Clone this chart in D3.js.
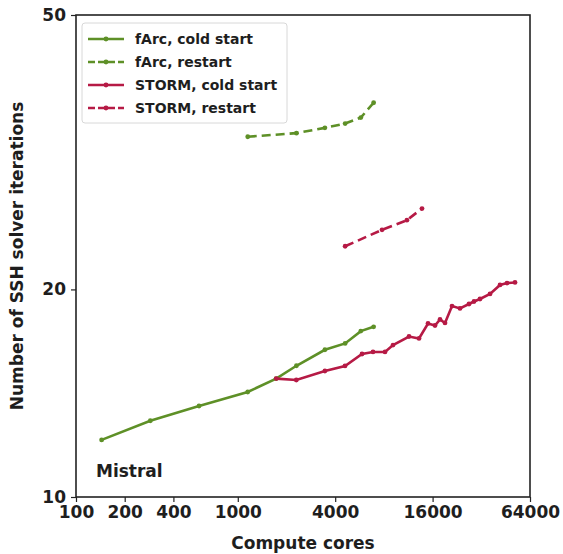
<!DOCTYPE html>
<html>
<head>
<meta charset="utf-8">
<script src="https://cdn.jsdelivr.net/npm/d3@7"></script>
<style>
  body { margin: 0; background: #fff; }
  text { font-family: "DejaVu Sans"; font-weight: bold; fill: #1e1e1e; }
</style>
</head>
<body>
<svg></svg>
<script>
var width = 563;
var height = 554;
var margin = { left: 76, right: 33, top: 15, bottom: 57 };

// tick labels
var xTicks = [100, 200, 400, 1000, 4000, 16000, 64000];
var yTicks = [10, 20, 50];

// fArc, cold start
var farcColdCores = [144, 288, 576, 1152, 1728, 2304, 3456, 4608, 5760, 6912];
var farcColdIters = [12.1, 12.9, 13.55, 14.2, 14.85, 15.5, 16.35, 16.7, 17.4, 17.65];

// fArc, restart
var farcRestartCores = [1152, 2304, 3456, 4608, 5760, 6912];
var farcRestartIters = [33.3, 33.7, 34.3, 34.8, 35.5, 37.3];

// STORM, cold start
var stormColdCores = [1728, 2300, 3456, 4600, 5860, 6850, 8130, 9110, 11440, 13190, 14990, 16560,
                      17780, 19090, 21090, 23630, 26860, 28850, 31420, 36230, 41770, 46140, 51700];
var stormColdIters = [14.85, 14.78, 15.23, 15.49, 16.12, 16.23, 16.23, 16.61, 17.09, 16.98, 17.85, 17.73,
                      18.09, 17.88, 18.92, 18.77, 19.05, 19.21, 19.37, 19.7, 20.3, 20.43, 20.47];

// STORM, restart
var stormRestartCores = [4608, 7790, 11100, 13760];
var stormRestartIters = [23.1, 24.4, 25.2, 26.2];

var green = "#5e9027";
var red = "#b61a45";

var series = [
  { name: "fArc, cold start", color: green, dash: null, cores: farcColdCores, iters: farcColdIters },
  { name: "fArc, restart", color: green, dash: "9,5", cores: farcRestartCores, iters: farcRestartIters },
  { name: "STORM, cold start", color: red, dash: null, cores: stormColdCores, iters: stormColdIters },
  { name: "STORM, restart", color: red, dash: "9,5", cores: stormRestartCores, iters: stormRestartIters }
];

var svg = d3.select("svg")
  .attr("width", width)
  .attr("height", height);

var x = d3.scaleLog().base(2)
  .domain([100, 64000])
  .range([margin.left, width - margin.right]);

var y = d3.scaleLog()
  .domain([10, 50])
  .range([height - margin.bottom, margin.top]);

// axes
var xAxis = svg.append("g")
  .attr("transform", "translate(0," + (height - margin.bottom) + ")")
  .call(d3.axisBottom(x).tickValues(xTicks).tickFormat(d3.format("d")).tickSize(5).tickPadding(4));

var yAxis = svg.append("g")
  .attr("transform", "translate(" + margin.left + ",0)")
  .call(d3.axisLeft(y).tickValues(yTicks).tickFormat(d3.format("d")).tickSize(5).tickPadding(5));

[xAxis, yAxis].forEach(function (g) {
  g.select(".domain").remove();
  g.selectAll(".tick line").attr("stroke", "#222").attr("stroke-width", 1.2);
  g.selectAll(".tick text").style("font-size", "17px").attr("fill", "#1e1e1e");
});

// plot frame
svg.append("rect")
  .attr("x", margin.left)
  .attr("y", margin.top)
  .attr("width", width - margin.left - margin.right)
  .attr("height", height - margin.top - margin.bottom)
  .attr("fill", "none")
  .attr("stroke", "#222")
  .attr("stroke-width", 1.6);

var line = d3.line()
  .x(d => x(d[0]))
  .y(d => y(d[1]));

series.forEach(function (s) {
  var pts = s.cores.map((c, i) => [c, s.iters[i]]);
  svg.append("path")
    .datum(pts)
    .attr("fill", "none")
    .attr("stroke", s.color)
    .attr("stroke-width", 2.6)
    .attr("stroke-dasharray", s.dash)
    .attr("d", line);
  svg.append("g")
    .selectAll("circle")
    .data(pts)
    .enter()
    .append("circle")
      .attr("cx", d => x(d[0]))
      .attr("cy", d => y(d[1]))
      .attr("r", 2.4)
      .attr("fill", s.color);
});

// legend
var legend = svg.append("g");
legend.append("rect")
  .attr("x", 82).attr("y", 23)
  .attr("width", 205).attr("height", 100)
  .attr("rx", 3)
  .attr("fill", "#fff")
  .attr("fill-opacity", 0.85)
  .attr("stroke", "#d8d8d8");

var entry = legend.selectAll(".entry")
  .data(series)
  .enter()
  .append("g")
    .attr("transform", (d, i) => "translate(0," + (39 + i * 23) + ")");

entry.append("line")
  .attr("x1", 88).attr("x2", 124)
  .attr("stroke", d => d.color)
  .attr("stroke-width", 2.6)
  .attr("stroke-dasharray", d => d.dash ? "7,3" : null);
entry.append("circle")
  .attr("cx", 106).attr("r", 2.4)
  .attr("fill", d => d.color);
entry.append("text")
  .attr("x", 135)
  .attr("dy", "0.35em")
  .style("font-size", "14px")
  .text(d => d.name);

// annotation
svg.append("text")
  .attr("x", 96).attr("y", 477)
  .style("font-size", "17px")
  .text("Mistral");

// axis titles
svg.append("text")
  .attr("x", (margin.left + width - margin.right) / 2)
  .attr("y", 549)
  .attr("text-anchor", "middle")
  .style("font-size", "17px")
  .text("Compute cores");

svg.append("text")
  .attr("transform", "translate(23," + ((margin.top + height - margin.bottom) / 2) + ") rotate(-90)")
  .attr("text-anchor", "middle")
  .style("font-size", "17px")
  .text("Number of SSH solver iterations");
</script>
</body>
</html>
